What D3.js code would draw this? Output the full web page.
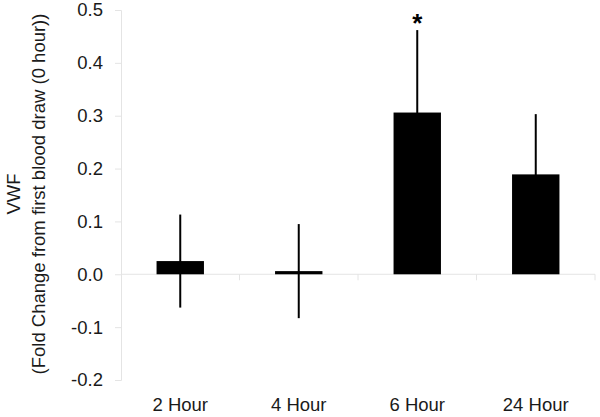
<!DOCTYPE html>
<html>
<head>
<meta charset="utf-8">
<script src="https://cdn.jsdelivr.net/npm/d3@7"></script>
<style>
  body { margin: 0; background: #fff; }
  text { font-family: "Liberation Sans", Arial, sans-serif; }
</style>
</head>
<body>
<svg id="chart" width="600" height="417"></svg>
<script>
// values
const categories = ['2 Hour', '4 Hour', '6 Hour', '24 Hour']
const means = [0.025, 0.006, 0.306, 0.189]
const errors = [0.088, 0.089, 0.156, 0.114]
const significant = [false, false, true, false]
const yTicks = [-0.2, -0.1, 0.0, 0.1, 0.2, 0.3, 0.4, 0.5]

const svg = d3.select('#chart')
const axisColor = '#e4e4e4'
const textColor = '#1a1a1a'

const y = d3.scaleLinear().domain([-0.2, 0.5]).range([380, 10])
const x = d3.scaleBand()
  .domain(categories)
  .range([121, 595])
  .paddingInner(0.6)
  .paddingOuter(0.3)

// y axis
const yAxis = svg.append('g')
  .attr('transform', 'translate(121,0)')
  .call(d3.axisLeft(y).tickValues(yTicks).tickSize(6).tickPadding(12))
yAxis.selectAll('path, line').attr('stroke', axisColor)
yAxis.selectAll('text')
  .attr('fill', textColor)
  .style('font-size', '18.5px')
  .style('font-family', '"Liberation Sans", Arial, sans-serif')
  .text(d => d3.format('.1f')(d).replace('−', '-'))

// zero line with ticks at category boundaries
svg.append('line')
  .attr('x1', x.range()[0]).attr('x2', x.range()[1])
  .attr('y1', y(0)).attr('y2', y(0))
  .attr('stroke', axisColor)
categories.forEach((c, i) => {
  const bx = x.range()[0] + (i + 1) * x.step()
  svg.append('line')
    .attr('x1', bx).attr('x2', bx)
    .attr('y1', y(0)).attr('y2', y(0) + 6)
    .attr('stroke', axisColor)
})

// bars
svg.selectAll('rect.bar')
  .data(categories)
  .join('rect')
  .attr('class', 'bar')
  .attr('x', d => x(d))
  .attr('width', x.bandwidth())
  .attr('y', (d, i) => y(Math.max(0, means[i])))
  .attr('height', (d, i) => Math.abs(y(means[i]) - y(0)))
  .attr('fill', '#000')

// error bars
svg.selectAll('line.err')
  .data(categories)
  .join('line')
  .attr('class', 'err')
  .attr('x1', d => x(d) + x.bandwidth() / 2)
  .attr('x2', d => x(d) + x.bandwidth() / 2)
  .attr('y1', (d, i) => y(means[i] + errors[i]))
  .attr('y2', (d, i) => y(means[i] - errors[i]))
  .attr('stroke', '#000')
  .attr('stroke-width', 2)

// significance marker
categories.forEach((c, i) => {
  if (!significant[i]) return
  svg.append('text')
    .attr('x', x(c) + x.bandwidth() / 2)
    .attr('y', y(means[i] + errors[i]) + 2)
    .attr('text-anchor', 'middle')
    .style('font-size', '26px')
    .style('font-weight', 'bold')
    .text('*')
})

// category labels
svg.selectAll('text.cat')
  .data(categories)
  .join('text')
  .attr('class', 'cat')
  .attr('x', d => x(d) + x.bandwidth() / 2)
  .attr('y', 411)
  .attr('text-anchor', 'middle')
  .attr('fill', textColor)
  .style('font-size', '18.5px')
  .text(d => d)

// y title
const title = svg.append('text')
  .attr('transform', 'translate(0,' + 194 + ') rotate(-90)')
  .attr('text-anchor', 'middle')
  .attr('fill', textColor)
  .style('font-size', '18.5px')
title.append('tspan').attr('x', 0).attr('y', 20).text('VWF')
title.append('tspan').attr('x', 0).attr('y', 45).text('(Fold Change from first blood draw (0 hour))')
</script>
</body>
</html>
